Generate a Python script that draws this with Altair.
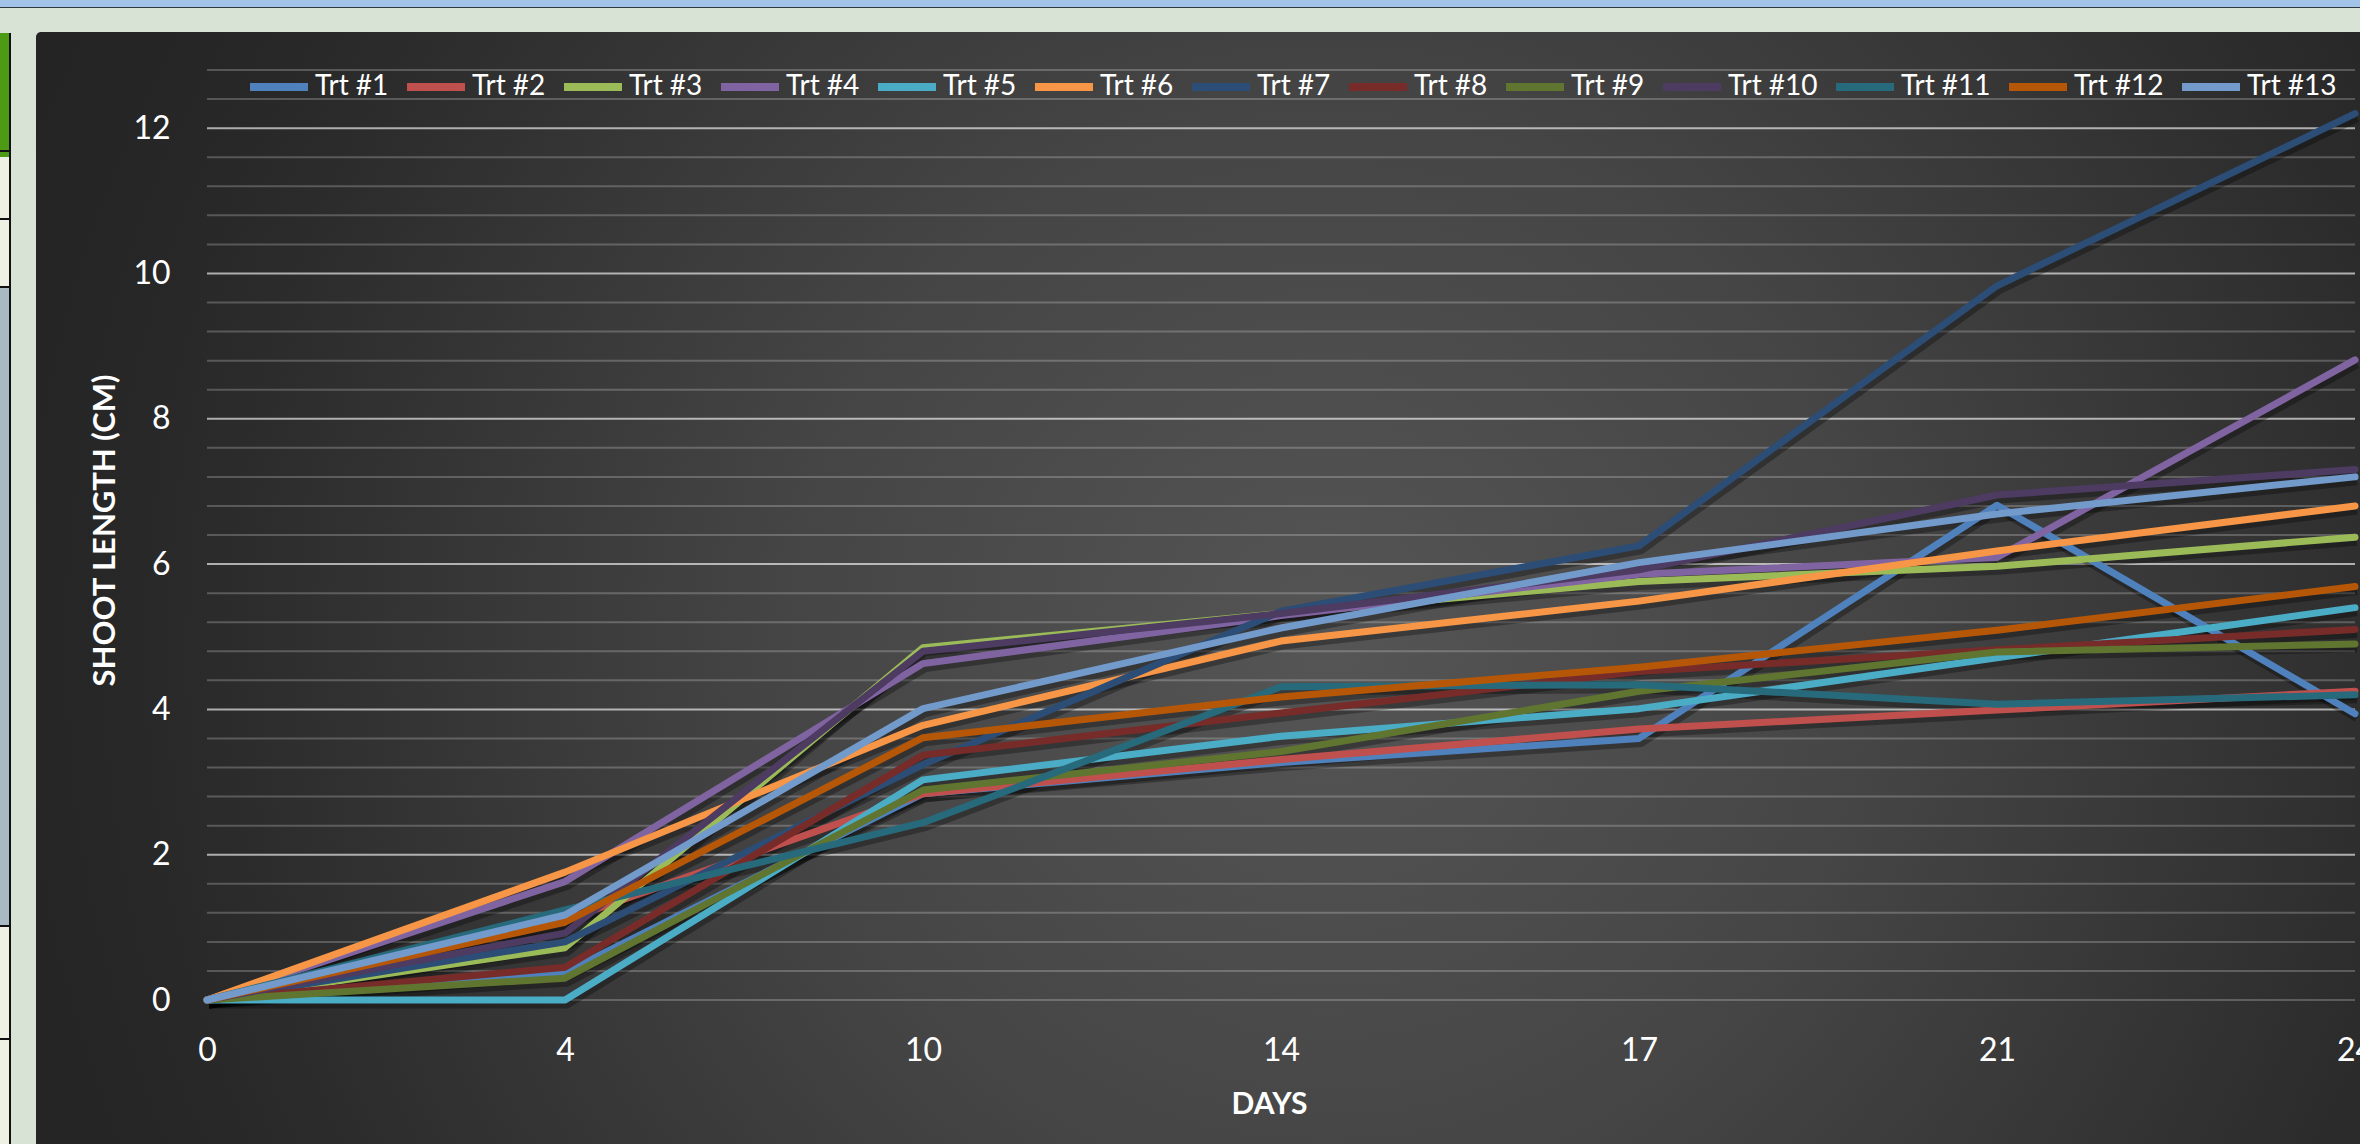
import altair as alt
import pandas as pd

# ---------------- data ----------------
days = ["0", "4", "10", "14", "17", "21", "24"]
series_names = ["Trt #1", "Trt #2", "Trt #3", "Trt #4", "Trt #5", "Trt #6", "Trt #7",
                "Trt #8", "Trt #9", "Trt #10", "Trt #11", "Trt #12", "Trt #13"]
trt1 = [0, 0.38, 2.84, 3.27, 3.60, 6.81, 3.94]
trt2 = [0, 1.10, 2.84, 3.31, 3.73, 3.99, 4.25]
trt3 = [0, 0.72, 4.85, 5.32, 5.76, 5.97, 6.37]
trt4 = [0, 1.63, 4.63, 5.29, 5.86, 6.09, 8.81]
trt5 = [0, 0.00, 3.03, 3.63, 4.01, 4.71, 5.40]
trt6 = [0, 1.76, 3.78, 4.94, 5.49, 6.18, 6.80]
trt7 = [0, 0.80, 3.24, 5.35, 6.25, 9.83, 12.20]
trt8 = [0, 0.45, 3.37, 3.95, 4.52, 4.82, 5.10]
trt9 = [0, 0.30, 2.89, 3.42, 4.25, 4.79, 4.90]
trt10 = [0, 0.92, 4.80, 5.32, 5.92, 6.95, 7.30]
trt11 = [0, 1.24, 2.44, 4.31, 4.34, 4.07, 4.20]
trt12 = [0, 1.07, 3.61, 4.17, 4.58, 5.09, 5.69]
trt13 = [0, 1.17, 4.01, 5.12, 6.02, 6.69, 7.20]
all_series = [trt1, trt2, trt3, trt4, trt5, trt6, trt7, trt8, trt9, trt10, trt11, trt12, trt13]

colors = ["#4F81BD", "#C0504D", "#9BBB59", "#8064A2", "#4BACC6", "#F79646", "#2C4D75",
          "#772C2A", "#5F7530", "#4D3B62", "#276A7C", "#B65708", "#729ACA"]

y_ticks = [round(i * 0.4, 1) for i in range(33)]
y_major = [2, 4, 6, 8, 10, 12]
y_minor = [v for v in y_ticks if v not in y_major]
y_labels = [0, 2, 4, 6, 8, 10, 12]

rows = []
for name, vals in zip(series_names, all_series):
    for d, v in zip(days, vals):
        rows.append({"day": d, "series": name, "length": v})
df = pd.DataFrame(rows)

# ---------------- layout ----------------
W, H = 2148, 930
FONT = "Lato"
one = pd.DataFrame({"k": [0]})


def deco(x, x2, y, y2, color, radius=0):
    return alt.Chart(one).mark_rect(fill=color, cornerRadius=radius, strokeWidth=0).encode(
        x=alt.value(x), x2=alt.value(x2), y=alt.value(y), y2=alt.value(y2))


bg_grad = {
    "gradient": "radial",
    "x1": 0.555, "y1": 0.526, "r1": 0,
    "x2": 0.555, "y2": 0.526, "r2": 0.6,
    "stops": [
        {"offset": 0, "color": "#555555"},
        {"offset": 0.39, "color": "#454545"},
        {"offset": 0.78, "color": "#2c2c2c"},
        {"offset": 0.88, "color": "#272727"},
        {"offset": 1, "color": "#242424"},
    ],
}

decor = [
    deco(-207, 2160, -70, -63, "#a2c4e8"),
    deco(-207, 2160, -63, -62, "#303840"),
    deco(-207, -198, -37, 87, "#4d9a14"),
    deco(-207, -198, 87, 1074, "#eef0e4"),
    deco(-207, -198, 216, 855, "#a9b9c4"),
    deco(-198, -196, -37, 1074, "#111111"),
    deco(-207, -196, 80, 82, "#111111"),
    deco(-207, -196, 148, 150, "#111111"),
    deco(-207, -196, 216, 218, "#111111"),
    deco(-207, -196, 855, 857, "#111111"),
    deco(-207, -196, 968, 970, "#111111"),
]

panel = alt.Chart(one).mark_rect(fill=bg_grad, cornerRadius=5, strokeWidth=0).encode(
    x=alt.value(-171), x2=alt.value(2160), y=alt.value(-38), y2=alt.value(1080))

y_scale = alt.Scale(domain=[0, 12.8], nice=False, zero=True)

x_axis = alt.Axis(
    title="DAYS", labelAngle=0, labelFont=FONT, labelFontSize=32, labelColor="white",
    labelPadding=50, labelBaseline="middle", ticks=False, tickSize=0, domain=False,
    grid=False, titleFont=FONT, titleFontSize=30, titleFontWeight="bold",
    titleColor="white", titleX=1062, titleY=104, titleBaseline="middle",
    titleAlign="center", zindex=1)
y_axis = alt.Axis(
    values=y_labels, format="d", title="SHOOT LENGTH (CM)", labelFont=FONT,
    labelFontSize=32, labelColor="white", labelPadding=37, ticks=False, tickSize=0,
    domain=False, grid=False, titleFont=FONT, titleFontSize=31, titleFontWeight="bold",
    titleColor="white", titleAngle=270, titleX=-102, titleY=460, titleAlign="center",
    titleBaseline="middle", zindex=1)

x_enc = alt.X("day:O", sort=days, scale=alt.Scale(type="point", padding=0), axis=x_axis)
y_enc = alt.Y("length:Q", scale=y_scale, axis=y_axis)

grid_minor = alt.Chart(pd.DataFrame({"length": y_minor})).mark_rule(
    color="rgba(255,255,255,0.22)", strokeWidth=2).encode(y=y_enc)
grid_major = alt.Chart(pd.DataFrame({"length": y_major})).mark_rule(
    color="rgba(255,255,255,0.62)", strokeWidth=2).encode(y=y_enc)

shadow = alt.Chart(df).mark_line(
    color="black", opacity=0.3, strokeWidth=9, strokeJoin="round", xOffset=2, yOffset=4
).encode(x=x_enc, y=y_enc, detail="series:N")

lines = alt.Chart(df).mark_line(strokeWidth=7, strokeJoin="round", strokeCap="round").encode(
    x=x_enc, y=y_enc,
    color=alt.Color(
        "series:N",
        scale=alt.Scale(domain=series_names, range=colors),
        legend=alt.Legend(
            title=None, orient="none", legendX=39, legendY=-16, direction="horizontal",
            columns=13, symbolType="stroke", symbolSize=3364, symbolStrokeWidth=8,
            labelFont=FONT, labelFontSize=28, labelColor="white", labelOffset=3,
            columnPadding=2, padding=0, labelLimit=200),
    ),
)

chart = alt.layer(*decor, panel, grid_minor, grid_major, shadow, lines).properties(
    width=W, height=H,
    padding={"left": 207, "top": 70, "right": 5, "bottom": 144},
    autosize=alt.AutoSizeParams(type="none"),
    background="#d9e3d5",
).configure_view(strokeWidth=0)

chart.save("out.html", embed_options={"renderer": "svg", "actions": False})
